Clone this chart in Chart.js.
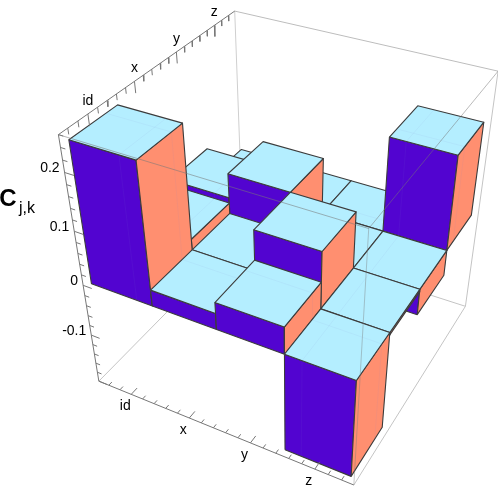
<!DOCTYPE html>
<html>
<head>
<meta charset="utf-8">
<style>
  html, body { margin: 0; padding: 0; background: #fff; }
  canvas { display: block; }
</style>
<script src="https://cdn.jsdelivr.net/npm/chart.js@4"></script>
</head>
<body>
<canvas id="grafica" width="498" height="493"></canvas>
<script>
const categories = ["id", "x", "y", "z"];
// one list per row, front to back, columns follow categories
const rowId = [0.25, 0.03, 0.05, -0.195];
const rowX = [0.05, 0.03, 0.105, -0.005];
const rowY = [0.06, 0.105, 0, -0.05];
const rowZ = [0, 0, 0, 0.175];
const rows = [rowId, rowX, rowY, rowZ];
const zTickLabels = ["-0.1", "0", "0.1", "0.2"];
const zTicks = [-0.1, 0, 0.1, 0.2];

const zMin = -0.2, zMax = 0.26;
const gridMin = 0.42, gridMax = 4.58;
const faintLines = [1.25, 3.75];

// box corners as seen on screen, the camera is fitted to them
const boxCorners = [
    [0, 0, 0, 98, 379], [1, 0, 0, 354, 486], [0, 1, 0, 243, 238], [1, 1, 0, 466, 304],
    [0, 0, 1, 59, 134], [1, 0, 1, 369, 231], [0, 1, 1, 235, 10], [1, 1, 1, 497, 71]
];

function fitCamera(pts) {
    const n = 11, ata = [], atb = new Array(n).fill(0);
    for (let i = 0; i < n; i++) ata.push(new Array(n).fill(0));
    const addRow = (row, b) => {
        for (let i = 0; i < n; i++) {
            atb[i] += row[i] * b;
            for (let k = 0; k < n; k++) ata[i][k] += row[i] * row[k];
        }
    };
    pts.forEach(([u, v, w, px, py]) => {
        const x = px / 500, y = py / 500;
        addRow([u, v, w, 1, 0, 0, 0, 0, -x * u, -x * v, -x * w], x);
        addRow([0, 0, 0, 0, u, v, w, 1, -y * u, -y * v, -y * w], y);
    });
    for (let c = 0; c < n; c++) {
        let best = c;
        for (let r = c + 1; r < n; r++) if (Math.abs(ata[r][c]) > Math.abs(ata[best][c])) best = r;
        [ata[c], ata[best]] = [ata[best], ata[c]];
        [atb[c], atb[best]] = [atb[best], atb[c]];
        for (let r = 0; r < n; r++) {
            if (r === c) continue;
            const f = ata[r][c] / ata[c][c];
            for (let k = c; k < n; k++) ata[r][k] -= f * ata[c][k];
            atb[r] -= f * atb[c];
        }
    }
    return atb.map((b, i) => b / ata[i][i]);
}

const cam = fitCamera(boxCorners);

function project(u, v, w) {
    const d = cam[8] * u + cam[9] * v + cam[10] * w + 1;
    return {
        x: 500 * (cam[0] * u + cam[1] * v + cam[2] * w + cam[3]) / d,
        y: 500 * (cam[4] * u + cam[5] * v + cam[6] * w + cam[7]) / d
    };
}

const toU = g => (g - gridMin) / (gridMax - gridMin);
const toW = z => (z - zMin) / (zMax - zMin);
const at = (gi, gj, z) => project(toU(gi), toU(gj), toW(z));

const datasets = [];

function addLine(a, b, color, width) {
    datasets.push({
        type: "scatter", data: [a, b], showLine: true, fill: false,
        borderColor: color, borderWidth: width, pointRadius: 0, tension: 0
    });
}

function addFace(points, color) {
    datasets.push({
        type: "scatter", data: [...points, points[0]], showLine: true, fill: "shape",
        backgroundColor: color, borderColor: "#3c3c3c", borderWidth: 1.1,
        pointRadius: 0, tension: 0, borderJoinStyle: "round"
    });
}

const c = (u, v, w) => project(u, v, w);

// back of the box goes under the bars
addLine(c(0, 1, 1), c(0, 1, 0), "#cfcfcf", 1);
addLine(c(0, 0, 0), c(0, 1, 0), "#c4c4c4", 1);
addLine(c(0, 1, 0), c(1, 1, 0), "#c4c4c4", 1);
addLine(c(0, 1, 1), c(1, 1, 1), "#bdbdbd", 1);
addLine(c(1, 1, 1), c(1, 1, 0), "#c4c4c4", 1);
addLine(c(1, 0, 0), c(1, 1, 0), "#c4c4c4", 1);

// painter order, far row first
const faint = "rgba(130,130,210,0.08)";
for (let j = 3; j >= 0; j--) {
    for (let i = 0; i < 4; i++) {
        const val = rows[j][i];
        const lo = Math.min(0, val), hi = Math.max(0, val);
        const x0 = i + 0.5, x1 = i + 1.5, y0 = j + 0.5, y1 = j + 1.5;
        addFace([at(x0, y0, lo), at(x1, y0, lo), at(x1, y0, hi), at(x0, y0, hi)], "#5204d0");
        addFace([at(x1, y0, lo), at(x1, y1, lo), at(x1, y1, hi), at(x1, y0, hi)], "#ff8f70");
        addFace([at(x0, y0, hi), at(x1, y0, hi), at(x1, y1, hi), at(x0, y1, hi)], "#b4eeff");
        faintLines.forEach(g => {
            if (g > x0 && g < x1) {
                addLine(at(g, y0, lo), at(g, y0, hi), faint, 1);
                addLine(at(g, y0, hi), at(g, y1, hi), faint, 1);
            }
            if (g > y0 && g < y1) {
                addLine(at(x1, g, lo), at(x1, g, hi), faint, 1);
                addLine(at(x0, g, hi), at(x1, g, hi), faint, 1);
            }
        });
    }
}

// front edges of the box run over the bars
addLine(c(0, 0, 1), c(1, 0, 1), "rgba(120,120,120,0.55)", 1);
addLine(c(1, 0, 1), c(1, 1, 1), "rgba(120,120,120,0.5)", 1);
addLine(c(1, 0, 1), c(1, 0, 0), "rgba(120,120,120,0.4)", 1);

// axes with ticks
const axisColor = "#777777";
addLine(c(0, 0, 1), c(0, 0, 0), axisColor, 1);
addLine(c(0, 0, 0), c(1, 0, 0), axisColor, 1);
addLine(c(0, 0, 1), c(0, 1, 1), axisColor, 1);

for (let k = -10; k <= 13; k++) {
    const z = k * 0.02;
    if (z < zMin || z > zMax) continue;
    const len = k % 5 === 0 ? 0.035 : 0.018;
    addLine(c(0, 0, toW(z)), c(len, 0, toW(z)), axisColor, 1);
}
for (let k = 3; k <= 22; k++) {
    const g = k * 0.2;
    if (g < gridMin || g > gridMax) continue;
    const len = k % 5 === 0 ? 0.035 : 0.018;
    addLine(c(toU(g), 0, 0), c(toU(g), len, 0), axisColor, 1);
    addLine(c(0, toU(g), 1), c(0, toU(g), 1 - len * 1.2), axisColor, 1);
}

const textPlugin = {
    id: "textos",
    afterDraw(chart) {
        const ctx = chart.ctx;
        const { x: sx, y: sy } = chart.scales;
        const put = (text, p, dx, dy, align, font) => {
            ctx.font = font;
            ctx.textAlign = align;
            ctx.textBaseline = "middle";
            ctx.fillStyle = "#000";
            ctx.fillText(text, sx.getPixelForValue(p.x) + dx, sy.getPixelForValue(p.y) + dy);
        };
        const small = '14px "Liberation Sans"';
        zTicks.forEach((z, i) => put(zTickLabels[i], at(0.42, 0.42, z), -5, -4, "right", small));
        categories.forEach((name, i) => {
            put(name, project(toU(i + 1), 0, 0), -6, 12, "center", small);
            put(name, project(0, toU(i + 1), 1), 0, -13, "center", small);
        });
        put("C", { x: 8, y: 199 }, 0, 0, "center", 'bold 24px "Liberation Sans"');
        put("j,k", { x: 27, y: 209 }, 0, 0, "center", '16px "Liberation Sans"');
    }
};

new Chart(document.getElementById("grafica"), {
    type: "scatter",
    data: { datasets: datasets.map((d, k) => ({ ...d, order: datasets.length - k })) },
    options: {
        responsive: false,
        animation: false,
        layout: { padding: 0 },
        plugins: { legend: { display: false }, tooltip: { enabled: false } },
        scales: {
            x: { type: "linear", min: 0, max: 498, display: false },
            y: { type: "linear", min: 0, max: 493, reverse: true, display: false }
        }
    },
    plugins: [textPlugin]
});
</script>
</body>
</html>
